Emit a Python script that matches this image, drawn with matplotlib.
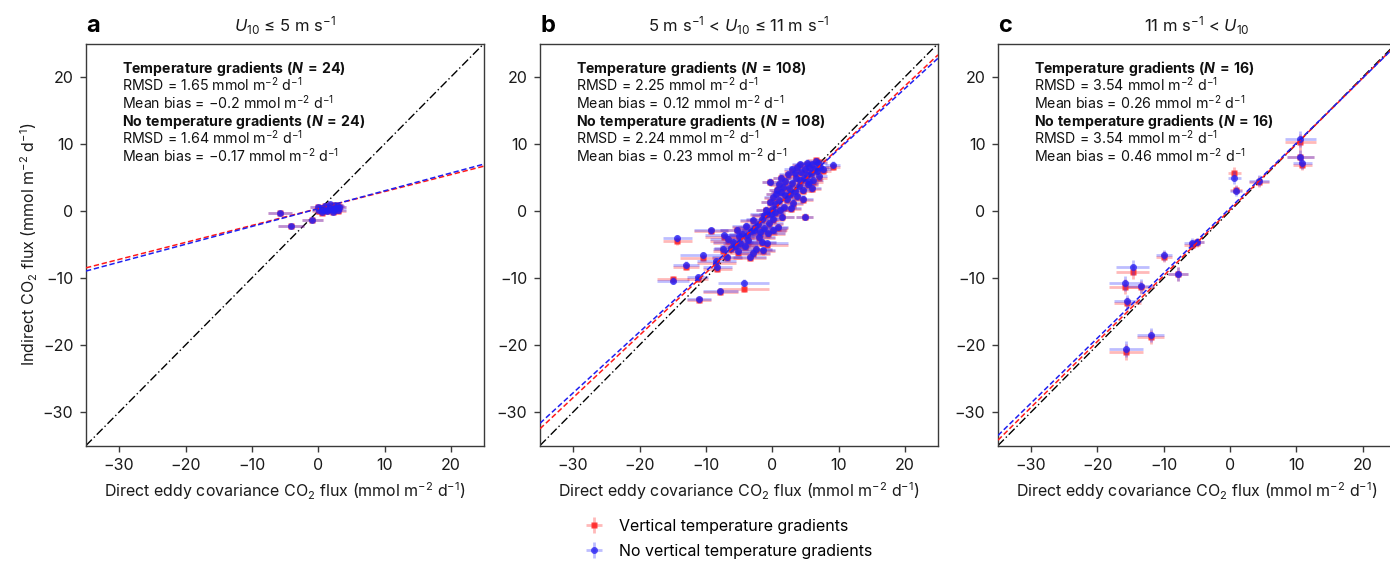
import numpy as np
import matplotlib
matplotlib.use("Agg")
import matplotlib.pyplot as plt

FONT = "Inter"
plt.rcParams['font.family'] = [FONT, 'DejaVu Sans']
plt.rcParams['mathtext.fontset'] = 'custom'
plt.rcParams['mathtext.rm'] = FONT
plt.rcParams['mathtext.it'] = FONT + ':italic'
plt.rcParams['mathtext.bf'] = FONT + ':bold'
try:
    plt.rcParams['mathtext.bfit'] = FONT + ':italic:bold'
except KeyError:
    pass

# ---------------- data ----------------
titles = [r"$U_{10}$ ≤ 5 m s$^{-1}$",
          r"5 m s$^{-1}$ < $U_{10}$ ≤ 11 m s$^{-1}$",
          r"11 m s$^{-1}$ < $U_{10}$"]
panel_letters = ["a", "b", "c"]
n_points = [24, 108, 16]
rmsd_temp = [1.65, 2.25, 3.54]
bias_temp = ["−0.2", "0.12", "0.26"]
rmsd_notemp = [1.64, 2.24, 3.54]
bias_notemp = ["−0.17", "0.23", "0.46"]

# regression fits (slope, intercept)
fit_red = [(0.253, 0.37), (0.930, 0.05), (0.983, 0.20)]
fit_blue = [(0.266, 0.35), (0.908, 0.10), (0.970, 0.45)]

# panel a
x_a = [-5.7, -4.1, -0.9, 0.2, 0.5, 0.8, 1.0, 1.2, 1.4, 1.6, 1.8, 2.0, 2.2,
       2.4, 2.6, 2.8, 3.0, 3.2, 0.0, 0.6, 1.1, 1.7, 2.3, 2.9]
yr_a = [-0.35, -2.25, -1.4, 0.05, 0.35, 0.15, 0.75, 0.45, -0.05, 0.55, 0.95,
        0.25, 0.65, 0.15, 0.85, 0.45, 0.05, 0.55, 0.55, -0.25, 0.15, 0.25, -0.15, 0.75]
yb_a = [-0.3, -2.2, -1.3, 0.1, 0.4, 0.2, 0.8, 0.5, 0.0, 0.6, 1.0,
        0.3, 0.7, 0.2, 0.9, 0.5, 0.1, 0.6, 0.6, -0.2, 0.2, 0.3, -0.1, 0.8]
xe_a = [1.8, 2.0, 1.6, 1.2, 1.0, 1.2, 1.1, 1.3, 1.0, 1.2, 1.1, 1.3, 1.0,
        1.2, 1.1, 1.0, 1.2, 1.0, 1.3, 1.1, 1.0, 1.2, 1.1, 1.0]
ye_a = [0.3] * 24

# panel b
x_b = [-0.3, 9.1, 4.9, -14.3, -9.2, -7.3, -5.3, -13.0, -10.4, -14.9, -11.2, -7.8,
       -4.3, -11.0, -8.3, -8.4, -3.4, -5.6, -5.9, -4.1, -7.4, -3.8, -2.6, -2.9,
       -1.6, -0.8, -2.0, 0.9, -0.8, 1.5, -1.2, -0.5, 0.2, 0.0, 0.4, 0.2,
       1.0, 1.3, 1.8, 2.2, 2.5, 2.7, 3.0, 3.2, 3.4, 3.6, 3.8, 4.0,
       4.2, 4.4, 4.6, 4.8, 5.0, 5.2, 5.4, 5.6, 5.8, 6.0, 6.2, 6.4,
       6.6, 6.8, 7.2, 7.0, 2.0, 1.6, 0.6, -0.2, -1.0, -1.5, -2.2, -3.2,
       -3.6, -4.5, -4.8, -5.2, -6.2, -6.6, -2.4, -1.8, -0.6, -1.4, 0.5, 1.2,
       2.8, 1.0, 3.0, 4.2, 5.3, 2.4, 3.8, 6.0, 4.6, -0.3, -1.3, -2.8,
       -3.9, -5.0, 0.1, 1.4, 2.0, 3.5, 5.6, 7.6, 6.9, -2.9, -6.8, 0.8]
yb_b = [4.4, 6.9, -0.85, -4.1, -2.9, -3.6, -2.8, -8.0, -6.6, -10.4, -9.9, -12.0,
        -10.7, -13.2, -8.4, -7.5, -6.8, -5.2, -4.6, -5.2, -5.6, -3.6, -2.4, -1.3,
        -4.6, -4.8, -3.9, -2.4, -0.45, -0.85, -2.6, -1.8, -1.2, 0.3, 1.0, 2.1,
        1.6, 2.9, 0.6, 1.8, 3.4, 2.5, 4.2, 1.2, 3.0, 5.0, 2.2, 3.8,
        4.6, 5.8, 3.2, 4.9, 6.2, 5.3, 4.0, 6.6, 5.6, 7.0, 4.6, 6.2,
        7.4, 6.0, 6.6, 5.2, 4.5, 3.6, 2.6, -0.4, 0.2, -1.2, -2.0, -3.0,
        -4.4, -3.4, -4.8, -6.0, -5.5, -4.2, -5.6, -3.2, -3.3, -5.8, -0.2, 0.2,
        0.4, 4.0, 6.2, 7.0, 7.2, 5.5, 6.6, 3.4, 1.8, 1.4, -0.6, -2.8,
        -2.2, -3.8, -2.8, 5.0, 2.4, 5.6, 4.4, 6.2, 7.1, -6.2, -6.8, 3.2]
yr_b = [4.3, 6.6, -0.9, -4.5, -3.0, -3.9, -2.9, -8.3, -7.0, -10.2, -10.1, -12.1,
        -11.6, -13.3, -8.6, -7.7, -7.0, -5.4, -4.8, -5.3, -5.9, -3.9, -2.5, -1.5,
        -4.8, -5.0, -4.0, -2.5, -0.6, -0.9, -2.8, -2.0, -1.3, 0.2, 0.9, 2.0,
        1.5, 2.8, 0.5, 1.7, 3.3, 2.4, 4.0, 1.1, 2.9, 4.9, 2.1, 3.7,
        4.5, 5.6, 3.0, 4.7, 6.0, 5.2, 3.9, 6.5, 5.5, 6.9, 4.4, 6.0,
        7.6, 5.9, 6.4, 5.0, 4.4, 3.5, 2.5, -0.5, 0.1, -1.3, -2.2, -3.2,
        -4.6, -3.6, -5.0, -6.2, -5.7, -4.5, -5.8, -3.4, -3.5, -6.0, -0.3, 0.1,
        0.3, 3.9, 6.0, 6.8, 7.0, 5.3, 6.4, 3.3, 1.7, 1.3, -0.7, -3.0,
        -2.4, -4.0, -3.0, 4.9, 2.3, 5.5, 4.2, 6.0, 7.3, -6.4, -7.0, 3.1]
xe_b = [1.2, 1.2, 1.3, 2.2, 2.6, 2.8, 2.5, 2.0, 3.5, 2.4, 1.6, 2.6,
        3.8, 1.8, 2.2, 3.0, 2.5, 2.3, 3.0, 2.0, 1.5, 3.5, 2.5, 2.0,
        2.2, 3.2, 2.4, 1.5, 2.5, 1.8, 3.5, 2.2, 1.6, 1.4, 1.2, 1.5,
        1.3, 1.5, 1.8, 1.2, 1.4, 1.5, 1.6, 1.4, 1.2, 1.4, 1.2, 1.5,
        1.2, 1.3, 1.4, 1.3, 1.2, 1.2, 1.5, 1.3, 1.2, 1.3, 1.4, 1.2,
        1.3, 1.5, 1.4, 1.2, 1.3, 1.2, 1.6, 1.8, 1.5, 2.4, 2.0, 2.2,
        2.4, 2.0, 2.6, 2.2, 2.5, 2.8, 2.4, 2.6, 2.5, 1.8, 1.5, 1.6,
        1.6, 1.4, 1.2, 1.2, 1.3, 1.4, 1.2, 1.4, 1.6, 1.4, 1.8, 1.8,
        2.2, 2.2, 2.0, 1.3, 1.4, 1.2, 1.3, 1.2, 1.3, 2.6, 2.2, 1.3]
ye_b = [0.5] * 108

# panel c
x_c = [0.6, 0.9, 4.4, 10.6, 10.6, 10.9, -5.8, -5.0, -10.0, -7.9, -14.7, -15.8,
       -13.5, -15.5, -12.0, -15.7]
yb_c = [5.0, 3.0, 4.5, 10.7, 8.1, 7.1, -4.8, -4.6, -6.6, -9.4, -8.4, -10.8,
        -11.2, -13.5, -18.5, -20.6]
yr_c = [5.6, 3.2, 4.4, 10.3, 8.1, 6.9, -5.0, -4.7, -6.8, -9.4, -9.1, -11.3,
        -11.4, -13.8, -18.8, -21.0]
xe_c = [1.0, 0.9, 1.5, 2.3, 2.0, 1.5, 1.2, 1.0, 1.2, 1.5, 2.5, 2.4, 2.0, 2.0, 2.0, 2.5]
ye_c = [0.9, 0.7, 0.8, 1.2, 1.0, 0.8, 0.7, 0.6, 0.8, 1.0, 1.1, 1.1, 1.0, 1.0, 1.0, 1.2]

panels = [(x_a, yr_a, yb_a, xe_a, ye_a),
          (x_b, yr_b, yb_b, xe_b, ye_b),
          (x_c, yr_c, yb_c, xe_c, ye_c)]

xticks = [-30, -20, -10, 0, 10, 20]
yticks = [-30, -20, -10, 0, 10, 20]
lims = (-35, 25)

RED_M = (1.0, 0.12, 0.12, 0.85)
BLUE_M = (0.15, 0.12, 0.95, 0.78)
RED_E = (1.0, 0.15, 0.15, 0.32)
BLUE_E = (0.2, 0.2, 1.0, 0.32)
RED_L = "#ff1a1a"
BLUE_L = "#1f1ff0"
SPINE = "#3a3a3a"
TXT = "#1a1a1a"

# ---------------- figure ----------------
W, H = 1390, 561
fig = plt.figure(figsize=(W / 100, H / 100), dpi=100)
lefts = [86, 540, 998]
ax_w, ax_h = 398, 402
ax_bottom = 445.5

label_fs = 11.5
ann_fs = 10.2
handles = None
for i, left in enumerate(lefts):
    ax = fig.add_axes([left / W, (H - ax_bottom) / H, ax_w / W, ax_h / H])
    x, yr, yb, xe, ye = panels[i]
    ax.set_xlim(*lims)
    ax.set_ylim(*lims)
    # 1:1 line
    ax.plot(lims, lims, color="black", lw=1.0, ls=(0, (6, 2, 1, 2)), zorder=2)
    hr = ax.errorbar(x, yr, xerr=xe, yerr=ye, fmt="s", ms=4.3, mfc=RED_M, mec="none",
                     ecolor=RED_E, elinewidth=2.0, capsize=0, zorder=3)
    hb = ax.errorbar(x, yb, xerr=xe, yerr=ye, fmt="o", ms=5.0, mfc=BLUE_M, mec="none",
                     ecolor=BLUE_E, elinewidth=2.0, capsize=0, zorder=4)
    if i == 1:
        handles = (hr, hb)
    xx = np.array(lims, dtype=float)
    sr, ir = fit_red[i]
    sb, ib = fit_blue[i]
    ax.plot(xx, sr * xx + ir, color=RED_L, lw=1.1, ls=(0, (3.5, 1.8)), zorder=5)
    ax.plot(xx, sb * xx + ib, color=BLUE_L, lw=1.1, ls=(0, (3.5, 1.8)), zorder=5)

    ax.set_xticks(xticks)
    ax.set_yticks(yticks)
    ax.tick_params(direction="out", length=4, width=1.0, color=SPINE,
                   labelsize=label_fs, labelcolor=TXT, pad=5)
    for s in ax.spines.values():
        s.set_color(SPINE)
        s.set_linewidth(1.0)
    ax.set_xlabel(r"Direct eddy covariance CO$_2$ flux (mmol m$^{-2}$ d$^{-1}$)",
                  fontsize=label_fs, color=TXT, labelpad=5)
    if i == 0:
        ax.set_ylabel(r"Indirect CO$_2$ flux (mmol m$^{-2}$ d$^{-1}$)",
                      fontsize=label_fs, color=TXT, labelpad=2)
    ax.text(0.5, (ax_bottom - 32) / ax_h, titles[i], transform=ax.transAxes,
            fontsize=12, ha="center", va="baseline", color=TXT)
    ax.text(0.0, (ax_bottom - 32) / ax_h, panel_letters[i], transform=ax.transAxes,
            fontsize=17, fontweight="bold", ha="left", va="baseline", color="black")

    # annotation block
    unit = r" mmol m$^{-2}$ d$^{-1}$"
    lines = [
        r"$\mathbf{Temperature\ gradients\ (}\mathbfit{N}\mathbf{\,{=}\,%d)}$" % n_points[i],
        "RMSD = %.2f" % rmsd_temp[i] + unit,
        "Mean bias = " + bias_temp[i] + unit,
        r"$\mathbf{No\ temperature\ gradients\ (}\mathbfit{N}\mathbf{\,{=}\,%d)}$" % n_points[i],
        "RMSD = %.2f" % rmsd_notemp[i] + unit,
        "Mean bias = " + bias_notemp[i] + unit,
    ]
    baselines = [73, 91, 109, 126, 144, 162]
    for txt, b in zip(lines, baselines):
        ax.text(36 / ax_w, (ax_bottom - b) / ax_h, txt, transform=ax.transAxes,
                fontsize=ann_fs, ha="left", va="baseline", color="#111111")

fig.legend(handles=list(handles),
           labels=["Vertical temperature gradients", "No vertical temperature gradients"],
           loc="upper left", bbox_to_anchor=(584 / W, 1 - 519 / H),
           frameon=False, fontsize=label_fs, handlelength=1.3, handletextpad=0.9,
           labelspacing=0.62, borderpad=0, borderaxespad=0)

fig.savefig("out.png", dpi=100)
